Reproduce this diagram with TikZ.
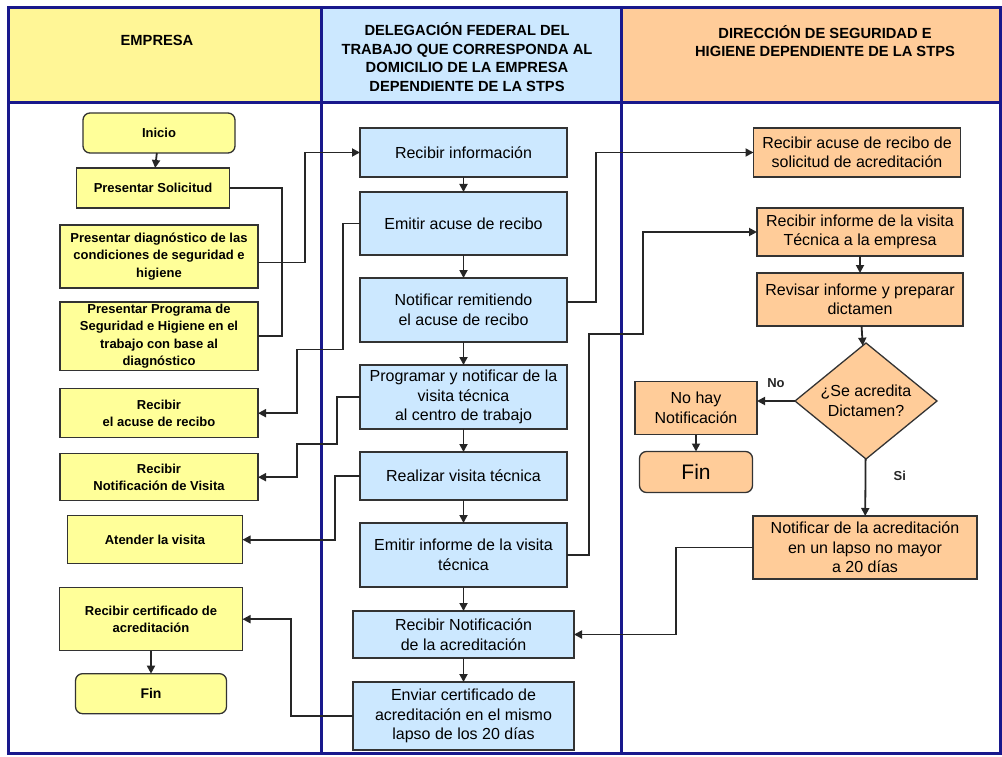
\documentclass[tikz,border=0pt]{standalone}
\usepackage{fontspec}
\setmainfont{Liberation Sans}
\usetikzlibrary{arrows.meta,positioning,shapes.geometric}
\definecolor{empyel}{RGB}{255,255,153}
\definecolor{emphead}{RGB}{255,246,150}
\definecolor{delblue}{RGB}{204,232,255}
\definecolor{dirpeach}{RGB}{255,204,153}
\definecolor{lanenavy}{RGB}{24,24,140}

\begin{document}
\begin{tikzpicture}[x=1pt,y=1pt,>={Triangle[length=8pt,width=8pt]},
  box/.style={draw=black!80,line width=1.3pt,align=center,inner sep=2pt,outer sep=0pt},
  empbox/.style={box,fill=empyel,font=\bfseries\fontsize{13}{17.5}\selectfont,minimum width=198pt},
  delbox/.style={box,fill=delblue,font=\fontsize{16}{19.5}\selectfont,minimum width=207pt},
  dirbox/.style={box,fill=dirpeach,font=\fontsize{16}{19.5}\selectfont,minimum width=206pt},
  term/.style={rounded corners=7pt},
  flow/.style={->,line width=1.8pt,black!85},
  lane/.style={lanenavy,line width=3pt},
  head/.style={font=\bfseries\fontsize{14.7}{18.5}\selectfont,align=center}]
\useasboundingbox (0,0) rectangle (1002,-757);

% swimlanes
\fill[emphead] (8,-8) rectangle (321,-103);
\fill[delblue] (321,-8) rectangle (621,-103);
\fill[dirpeach] (621,-8) rectangle (1000,-103);
\draw[lane] (8,-8) rectangle (1000,-753) (8,-103) -- (1000,-103) (321,-8) -- (321,-753) (621,-8) -- (621,-753);
\node[head] (hemp) at (157,-40) {EMPRESA};
\node[head] (hdel) at (467,-57) {DELEGACIÓN FEDERAL DEL\\TRABAJO QUE CORRESPONDA AL\\DOMICILIO DE LA EMPRESA\\DEPENDIENTE DE LA STPS};
\node[head] (hdir) at (825,-41) {DIRECCIÓN DE SEGURIDAD E\\HIGIENE DEPENDIENTE DE LA STPS};

% empresa
\node[empbox,term,minimum width=152pt,minimum height=40pt] (inicio) at (159,-133) {Inicio};
\node[empbox,minimum width=153pt,minimum height=40pt,below=15pt of inicio,xshift=-6pt] (sol) {Presentar Solicitud};
\node[empbox,minimum height=63pt,below=17pt of sol,xshift=6pt] (diag) {Presentar diagnóstico de las\\condiciones de seguridad e\\higiene};
\node[empbox,minimum height=68pt,below=14pt of diag] (prog) {Presentar Programa de\\Seguridad e Higiene en el\\trabajo con base al\\diagnóstico};
\node[empbox,minimum height=49pt,below=18pt of prog] (racuse) {Recibir\\el acuse de recibo};
\node[empbox,minimum height=47pt,below=16pt of racuse] (rvisita) {Recibir\\Notificación de Visita};
\node[empbox,minimum width=175pt,minimum height=48pt,below=15pt of rvisita,xshift=-4pt] (atender) {Atender la visita};
\node[empbox,minimum width=183pt,minimum height=63pt,below=24pt of atender,xshift=-4pt] (rcert) {Recibir certificado de\\acreditación};
\node[empbox,term,minimum width=151pt,minimum height=40pt,below=23pt of rcert,font=\bfseries\fontsize{14}{17}\selectfont] (fin) {Fin};

% delegacion
\node[delbox,minimum height=49pt] (info) at (463.5,-152.5) {Recibir información};
\node[delbox,minimum height=63pt,below=15pt of info] (eacuse) {Emitir acuse de recibo};
\node[delbox,minimum height=64pt,below=23pt of eacuse] (notrem) {Notificar remitiendo\\el acuse de recibo};
\node[delbox,minimum height=64pt,below=23pt of notrem] (progvis) {Programar y notificar de la\\visita técnica\\al centro de trabajo};
\node[delbox,minimum height=48pt,below=23pt of progvis] (realizar) {Realizar visita técnica};
\node[delbox,minimum height=64pt,below=23pt of realizar] (einforme) {Emitir informe de la visita\\técnica};
\node[delbox,minimum width=221pt,minimum height=47pt,below=24pt of einforme] (rnotacr) {Recibir Notificación\\de la acreditación};
\node[delbox,minimum width=221pt,minimum height=68pt,below=24pt of rnotacr] (enviar) {Enviar certificado de\\acreditación en el mismo\\lapso de los 20 días};

% direccion
\node[dirbox,minimum width=207pt,minimum height=49pt] (racsol) at (857,-152.5) {Recibir acuse de recibo de\\solicitud de acreditación};
\node[dirbox,minimum height=48pt] (rinf) at (860,-232) {Recibir informe de la visita\\Técnica a la empresa};
\node[dirbox,minimum height=53pt,below=17pt of rinf] (revisar) {Revisar informe y preparar\\dictamen};
\node[draw=black!80,line width=1.3pt,fill=dirpeach,diamond,aspect=1.2,inner sep=0pt,outer sep=0pt,minimum width=142pt,minimum height=116pt,align=center,
  font=\fontsize{16}{19.5}\selectfont,below=17pt of revisar,xshift=6pt] (dec) {¿Se acredita\\Dictamen?};
\node[dirbox,minimum width=122pt,minimum height=53pt,left=38pt of dec,yshift=-7pt] (nohay) {No hay\\Notificación};
\node[dirbox,term,minimum width=113pt,minimum height=41pt,below=17pt of nohay,font=\fontsize{21}{24}\selectfont] (fin2) {Fin};
\node[dirbox,minimum width=224pt,minimum height=63pt,below=57pt of dec,xshift=-1pt] (notacr) {Notificar de la acreditación\\en un lapso no mayor\\a 20 días};

% flujo empresa
\draw[flow] (inicio) -- (sol);
\draw[flow] (rcert) -- (fin);
\draw[line width=1.8pt,black!85] (sol.east) -| ([xshift=24pt]prog.east) -- (prog.east);
\draw[flow] ([yshift=-6pt]diag.east) -- ++(47pt,0) |- (info.west);
% flujo delegacion
\draw[flow] (info) -- (eacuse);
\draw[flow] (eacuse) -- (notrem);
\draw[flow] (notrem) -- (progvis);
\draw[flow] (progvis) -- (realizar);
\draw[flow] (realizar) -- (einforme);
\draw[flow] (einforme) -- (rnotacr);
\draw[flow] (rnotacr) -- (enviar);
\draw[flow] (eacuse.west) -- ++(-17pt,0) -- ++(0,-126pt) -| ([xshift=39pt]racuse.east) -- (racuse.east);
\draw[flow] (progvis.west) -- ++(-23pt,0) -- ++(0,-47pt) -| ([xshift=39pt]rvisita.east) -- (rvisita.east);
\draw[flow] (realizar.west) -- ++(-25pt,0) |- (atender.east);
\draw[flow] ([yshift=8pt]notrem.east) -- ++(29pt,0) |- (racsol.west);
\draw[flow] (einforme.east) -- ++(22pt,0) -- ++(0,221pt) -| ([xshift=-114pt]rinf.west) -- (rinf.west);
\draw[flow] (enviar.west) -- ++(-62pt,0) |- (rcert.east);
% flujo direccion
\draw[flow] (rinf) -- (revisar);
\draw[flow] (revisar) -- (dec);
\draw[flow] (dec) -- node[pos=0.3,right=24pt,font=\bfseries\fontsize{13}{15}\selectfont] {Si} (notacr);
\draw[flow] (dec.west) -- node[above=9pt,font=\bfseries\fontsize{13}{15}\selectfont] {No} (dec.west -| nohay.east);
\draw[flow] (nohay) -- (fin2);
\draw[flow] (notacr.west) -- ++(-77pt,0) |- (rnotacr.east);
\end{tikzpicture}
\end{document}
